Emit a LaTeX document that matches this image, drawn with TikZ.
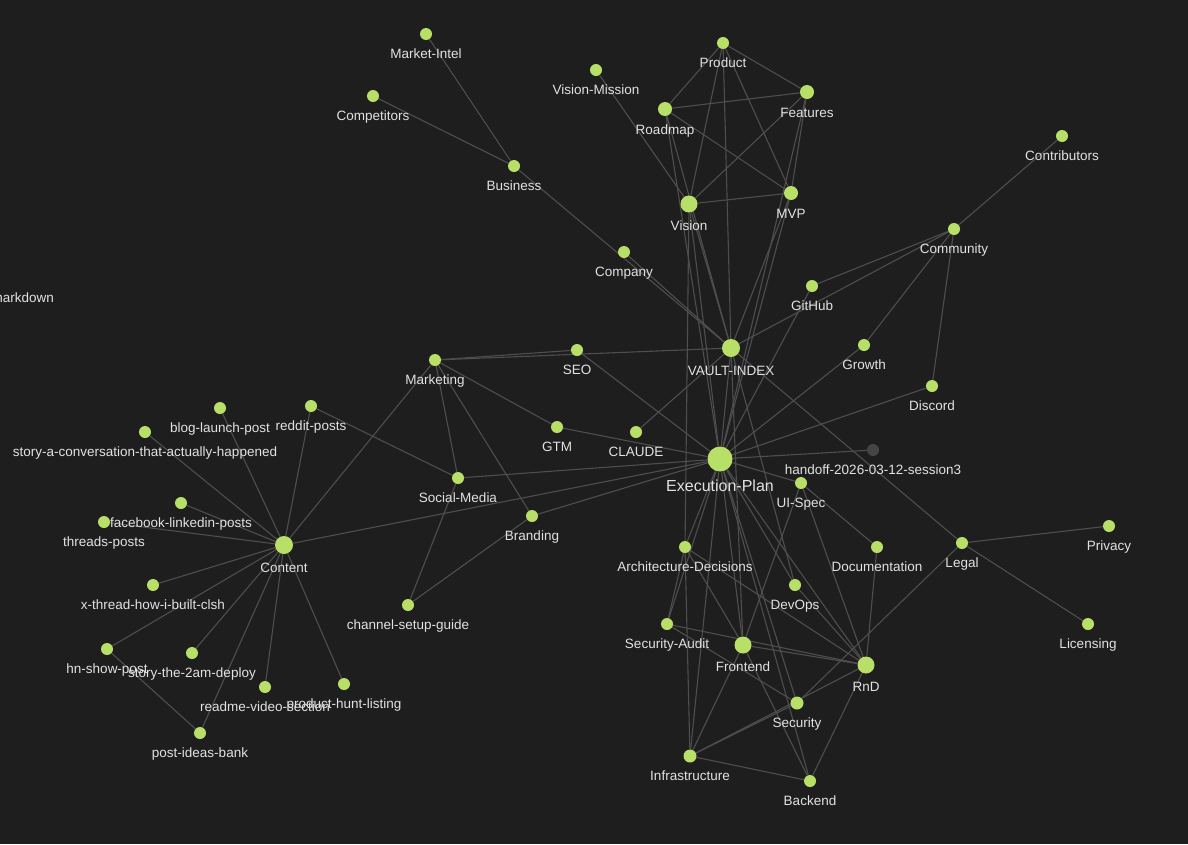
\documentclass[tikz,border=0pt]{standalone}
\usepackage{fontspec}
\setmainfont{Liberation Sans}
\usetikzlibrary{backgrounds}
\definecolor{bg}{HTML}{1E1E1E}
\definecolor{dotgreen}{HTML}{B8E068}
\definecolor{edgegray}{HTML}{4E4E4E}
\definecolor{labtext}{HTML}{E2E2E2}
\definecolor{dimdot}{HTML}{454545}

\begin{document}
\begin{tikzpicture}[x=1pt,y=-1pt,every node/.style={font=\fontsize{13.5}{15}\selectfont}]
    \tikzstyle{lab}=[text=labtext,inner sep=0pt,text height=10pt,text depth=3pt,label distance=8pt];
    \tikzstyle{d}=[circle,fill=dotgreen,inner sep=0pt,minimum size=12pt];
    \tikzstyle{dm}=[d,minimum size=14pt];
    \tikzstyle{db}=[d,minimum size=17pt];
    \tikzstyle{e}=[draw=edgegray,line width=1.1pt];

    \useasboundingbox (0,0) rectangle (1188,844);
    \clip (0,0) rectangle (1188,844);

    % top: business and product notes
    \node[d,label={[lab]below:Market-Intel}]    (mktintel)      at (426,34)  {};
    \node[d,label={[lab]below:Competitors}]     (competitors)   at (373,96)  {};
    \node[d,label={[lab]below:Business}]        (business)      at (514,166) {};
    \node[d,label={[lab]below:Company}]         (company)       at (624,252) {};
    \node[d,label={[lab]below:Vision-Mission}]  (visionmission) at (596,70)  {};
    \node[d,label={[lab]below:Product}]         (product)       at (723,43)  {};
    \node[dm,label={[lab]below:Features}]       (features)      at (807,92)  {};
    \node[dm,label={[lab]below:Roadmap}]        (roadmap)       at (665,109) {};
    \node[db,label={[lab]below:Vision}]         (vision)        at (689,204) {};
    \node[dm,label={[lab]below:MVP}]            (mvp)           at (791,193) {};

    % right: community
    \node[d,label={[lab]below:Contributors}]    (contributors)  at (1062,136) {};
    \node[d,label={[lab]below:Community}]       (community)     at (954,229)  {};
    \node[d,label={[lab]below:GitHub}]          (github)        at (812,286)  {};
    \node[d,label={[lab]below:Growth}]          (growth)        at (864,345)  {};
    \node[d,label={[lab]below:Discord}]         (discord)       at (932,386)  {};

    % centre: hubs and marketing
    \node[db,minimum size=18pt,label={[lab]below:VAULT-INDEX}] (vault) at (731,348) {};
    \node[d,minimum size=25pt,label={[lab,font=\fontsize{16}{18}\selectfont,text height=12pt,text depth=3.5pt,label distance=8pt]below:Execution-Plan}] (exec) at (720,459) {};
    \node[d,fill=dimdot,label={[lab]below:handoff-2026-03-12-session3}] (handoff) at (873,450) {};
    \node[d,label={[lab]below:UI-Spec}]         (uispec)        at (801,483) {};
    \node[d,label={[lab]below:SEO}]             (seo)           at (577,350) {};
    \node[d,label={[lab]below:Marketing}]       (marketing)     at (435,360) {};
    \node[d,label={[lab]below:GTM}]             (gtm)           at (557,427) {};
    \node[d,label={[lab]below:CLAUDE}]          (claude)        at (636,432) {};
    \node[d,label={[lab]below:Social-Media}]    (social)        at (458,478) {};
    \node[d,label={[lab]below:Branding}]        (branding)      at (532,516) {};
    \node[d,label={[lab]below:channel-setup-guide}] (channel)   at (408,605) {};

    % left: content posts
    \node[db,minimum size=18pt,label={[lab]below:Content}] (content) at (284,545) {};
    \node[d,label={[lab]below:blog-launch-post}] (blog)         at (220,408) {};
    \node[d,label={[lab]below:reddit-posts}]    (reddit)        at (311,406) {};
    \node[d,label={[lab]below:story-a-conversation-that-actually-happened}] (storyconv) at (145,432) {};
    \node[d,label={[lab]below:facebook-linkedin-posts}] (fbli)  at (181,503) {};
    \node[d,label={[lab]below:threads-posts}]   (threads)       at (104,522) {};
    \node[d,label={[lab]below:x-thread-how-i-built-clsh}] (xthread) at (153,585) {};
    \node[d,label={[lab]below:hn-show-post}]    (hnshow)        at (107,649) {};
    \node[d,label={[lab]below:story-the-2am-deploy}] (story2am) at (192,653) {};
    \node[d,label={[lab]below:readme-video-section}] (readme)   at (265,687) {};
    \node[d,label={[lab]below:product-hunt-listing}] (phunt)    at (344,684) {};
    \node[d,label={[lab]below:post-ideas-bank}] (ideas)         at (200,733) {};
    \node[lab,anchor=east] (markdown) at (54,299) {markdown};

    % bottom right: build notes
    \node[d,label={[lab]below:Architecture-Decisions}] (arch)   at (685,547) {};
    \node[d,label={[lab]below:Documentation}]   (docs)          at (877,547) {};
    \node[d,label={[lab]below:Legal}]           (legal)         at (962,543) {};
    \node[d,label={[lab]below:Privacy}]         (privacy)       at (1109,526) {};
    \node[d,label={[lab]below:DevOps}]          (devops)        at (795,585) {};
    \node[d,label={[lab]below:Licensing}]       (licensing)     at (1088,624) {};
    \node[d,label={[lab]below:Security-Audit}]  (secaudit)      at (667,624) {};
    \node[db,label={[lab]below:Frontend}]       (frontend)      at (743,645) {};
    \node[db,label={[lab]below:RnD}]            (rnd)           at (866,665) {};
    \node[d,minimum size=13pt,label={[lab]below:Security}] (security) at (797,703) {};
    \node[d,minimum size=13pt,label={[lab]below:Infrastructure}] (infra) at (690,756) {};
    \node[d,label={[lab]below:Backend}]         (backend)       at (810,781) {};

    \begin{scope}[on background layer]
    \fill[bg] (0,0) rectangle (1188,844);
    % links
    \foreach \a/\b in {business/mktintel,business/competitors,business/vault,company/vault,
        product/roadmap,product/features,product/vision,product/vault,product/mvp,
        roadmap/features,roadmap/mvp,roadmap/vault,roadmap/exec,
        features/vision,features/mvp,features/exec,visionmission/vision,
        vision/mvp,vision/vault,vision/exec,vision/arch,mvp/vault,mvp/exec,
        vault/exec,vault/legal,vault/claude,vault/marketing,vault/community,vault/devops,vault/frontend,
        community/contributors,community/github,community/growth,community/discord,
        github/exec,growth/exec,discord/exec,handoff/exec,
        marketing/seo,marketing/gtm,marketing/social,marketing/branding,marketing/content,
        seo/exec,gtm/exec,social/exec,social/channel,social/reddit,branding/exec,branding/channel,
        content/exec,content/reddit,content/blog,content/storyconv,content/fbli,content/threads,
        content/xthread,content/hnshow,content/story2am,content/readme,content/phunt,content/ideas,
        hnshow/ideas}
        \draw[e] (\a) -- (\b);
    \foreach \a/\b in {exec/uispec,exec/arch,exec/secaudit,exec/frontend,exec/rnd,exec/security,
        exec/backend,exec/infra,exec/devops,uispec/docs,uispec/frontend,uispec/rnd,docs/rnd,
        legal/privacy,legal/licensing,legal/security,
        arch/secaudit,arch/frontend,arch/rnd,arch/infra,secaudit/rnd,secaudit/security,
        frontend/rnd,frontend/backend,frontend/infra,security/infra,infra/rnd,infra/backend,
        backend/rnd,devops/rnd}
        \draw[e] (\a) -- (\b);
    \end{scope}
\end{tikzpicture}
\end{document}
